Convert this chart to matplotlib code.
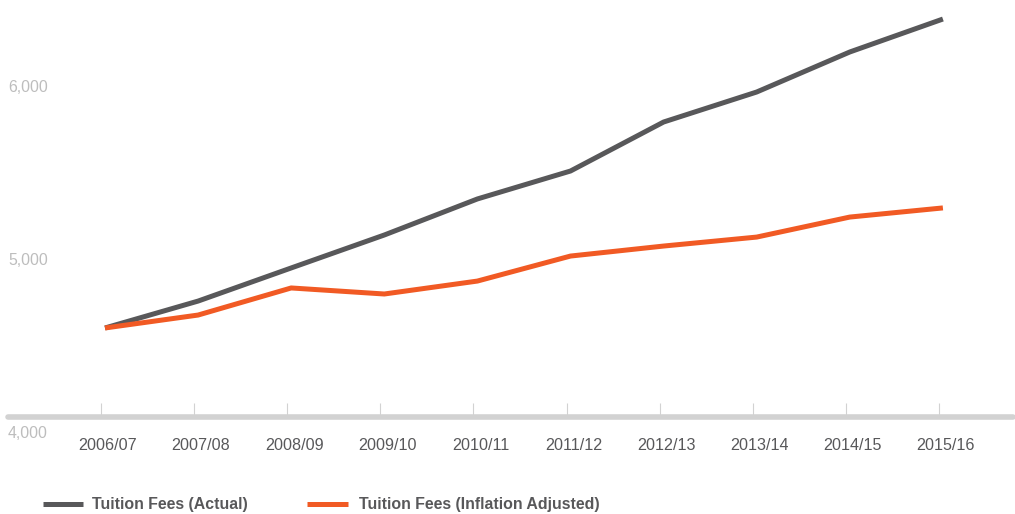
import matplotlib.pyplot as plt
import matplotlib.transforms as mtransforms
from matplotlib.lines import Line2D

plt.rcParams['font.family'] = ['Liberation Sans', 'DejaVu Sans']

# data
years = ["2006/07", "2007/08", "2008/09", "2009/10", "2010/11",
         "2011/12", "2012/13", "2013/14", "2014/15", "2015/16"]
actual = [4603, 4759, 4951, 5142, 5351, 5513, 5797, 5971, 6203, 6394]
adjusted = [4603, 4678, 4835, 4800, 4875, 5020, 5078, 5130, 5246, 5299]
ytick_vals = [4000, 5000, 6000]

grey = "#58585a"
orange = "#f15a24"

W, H = 1015, 514
fig = plt.figure(figsize=(W / 100, H / 100), dpi=100)
# axes from x=8..1013 px, y=0..417 px (bottom edge is the thick axis line)
ax = fig.add_axes([8 / W, (H - 417) / H, 1005 / W, 417 / H])

x = list(range(len(years)))
ax.plot(x, actual, color=grey, lw=3.6, solid_capstyle='butt', solid_joinstyle='miter')
ax.plot(x, adjusted, color=orange, lw=3.6, solid_capstyle='butt', solid_joinstyle='miter')

px = 93.1
x0 = 105  # pixel of first category
ax.set_xlim((8 - x0) / px, (1013 - x0) / px)
ppv = 0.1725  # pixels per unit
ax.set_ylim(4000 + (432 - 417) / ppv, 4000 + 432 / ppv)

for s in ['top', 'left', 'right']:
    ax.spines[s].set_visible(False)
ax.spines['bottom'].set_color("#d2d2d2")
ax.spines['bottom'].set_linewidth(4)
ax.spines['bottom'].set_capstyle('round')

# labels sit a little right of the tick marks
ax.set_xticks(x)
ax.set_xticklabels(years)
ax.tick_params(axis='x', which='major', length=0, pad=15, labelsize=11.6,
               labelcolor="#58585a")
shift = mtransforms.ScaledTranslation(3 / 100, 0, fig.dpi_scale_trans)
for lab in ax.get_xticklabels():
    lab.set_transform(lab.get_transform() + shift)
ax.set_xticks([i - 4 / px for i in x], minor=True)
ax.tick_params(axis='x', which='minor', direction='in', length=10, width=0.8,
               color="#d2d2d2", labelbottom=False)
ax.set_yticks([])

for v in ytick_vals:
    ax.text(0, v - 1 / ppv, "{:,}".format(v), transform=ax.get_yaxis_transform(),
            ha='left', va='center', fontsize=11.4, color="#bdbdbd", clip_on=False)

# legend
ly = 1 - 504 / H
fig.add_artist(Line2D([43 / W, 83 / W], [ly, ly], color=grey, lw=3.6,
                      solid_capstyle='butt'))
fig.text(92 / W, ly, "Tuition Fees (Actual)", fontsize=11.4,
         fontweight='bold', color=grey, va='center')
fig.add_artist(Line2D([307 / W, 348 / W], [ly, ly], color=orange, lw=3.6,
                      solid_capstyle='butt'))
fig.text(359 / W, ly, "Tuition Fees (Inflation Adjusted)", fontsize=11.4,
         fontweight='bold', color=grey, va='center')

fig.savefig("out.png", dpi=100)
